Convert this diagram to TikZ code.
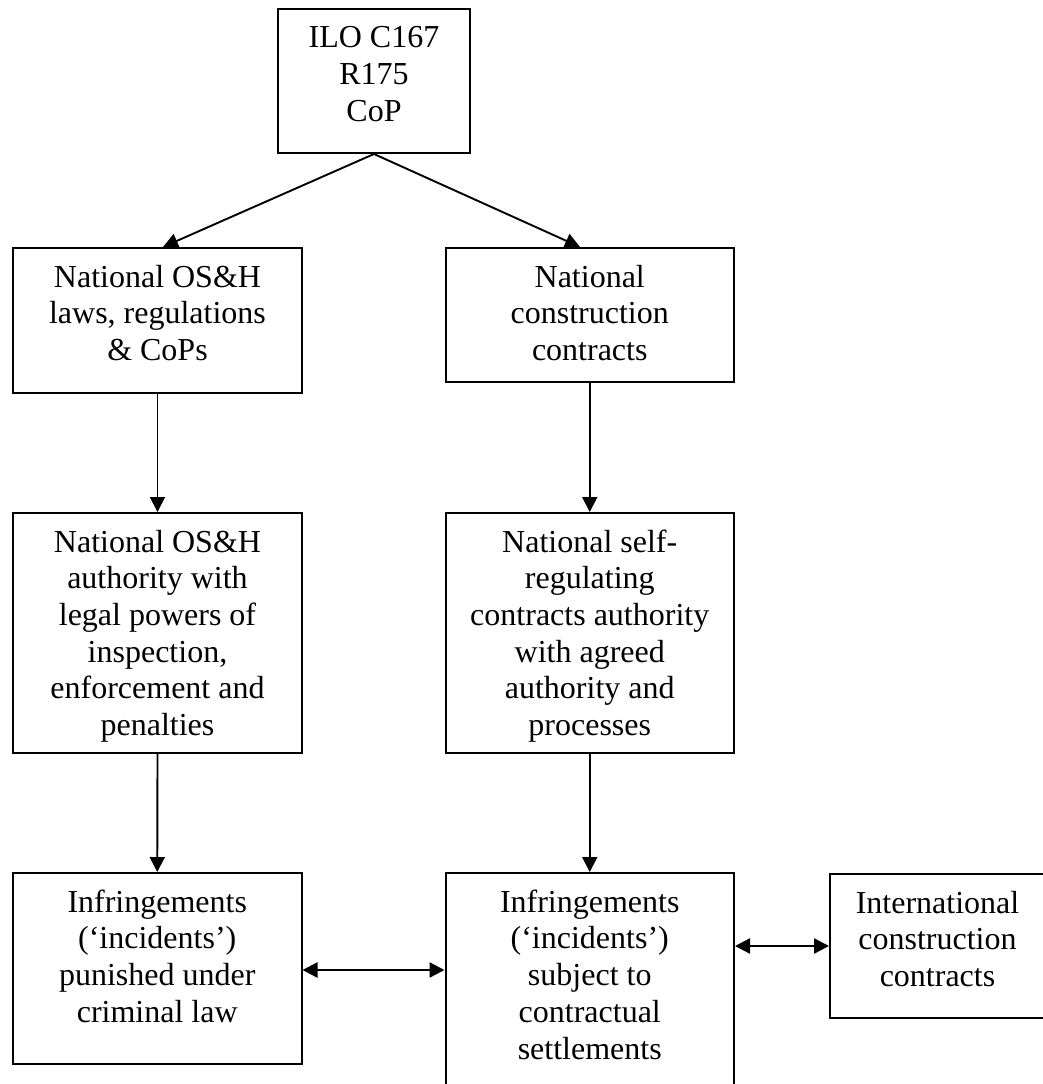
\documentclass[tikz,border=0pt]{standalone}
\usepackage{fontspec}
\setmainfont{Liberation Serif}
\usetikzlibrary{arrows.meta,calc}
\begin{document}
\begin{tikzpicture}[x=1pt,y=-1pt,
  boxnode/.style={draw, line width=2pt, inner sep=0pt, anchor=north west},
  txt/.style={anchor=north, inner sep=0pt, align=center, font=\fontsize{32}{36.7}\selectfont},
  conn/.style={line width=1.9pt, -{Triangle[length=15pt,width=15pt]}},
  dconn/.style={line width=2.3pt, {Triangle[length=15pt,width=15pt]}-{Triangle[length=15pt,width=15pt]}}]
\useasboundingbox (0,0) rectangle (1042,1084);

\node[boxnode, minimum width=192pt, minimum height=144.5pt] (ilo) at (277,7.5) {};
\node[boxnode, minimum width=289pt, minimum height=145pt] (l1) at (12,247) {};
\node[boxnode, minimum width=288.5pt, minimum height=134pt] (r1) at (444.5,247) {};
\node[boxnode, minimum width=289pt, minimum height=240pt] (l2) at (12,512) {};
\node[boxnode, minimum width=288.5pt, minimum height=240pt] (r2) at (444.5,512) {};
\node[boxnode, minimum width=288.5pt, minimum height=191pt] (l3) at (12,872) {};
\node[boxnode, minimum width=288.5pt, minimum height=225pt] (m3) at (444.5,872) {};
\node[boxnode, minimum width=215pt, minimum height=144pt] (x3) at (829,873) {};

\node[txt] (ilot) at ([yshift=-14.3pt]ilo.north) {\strut ILO C167\\R175\\CoP};
\node[txt] (l1t) at ([yshift=-14.3pt]l1.north) {\strut National OS\&H\\laws, regulations\\\& CoPs};
\node[txt] (r1t) at ([yshift=-14.3pt]r1.north) {\strut National\\construction\\contracts};
\node[txt] (l2t) at ([yshift=-14.3pt]l2.north) {\strut National OS\&H\\authority with\\legal powers of\\inspection,\\enforcement and\\penalties};
\node[txt] (r2t) at ([yshift=-14.3pt]r2.north) {\strut National self-\\regulating\\contracts authority\\with agreed\\authority and\\processes};
\node[txt] (l3t) at ([yshift=-14.3pt]l3.north) {\strut Infringements\\(‘incidents’)\\punished under\\criminal law};
\node[txt] (m3t) at ([yshift=-14.3pt]m3.north) {\strut Infringements\\(‘incidents’)\\subject to\\contractual\\settlements};
\node[txt] (x3t) at ([yshift=-14.3pt]x3.north) {\strut International\\construction\\contracts};

\draw[conn] (ilo.south) -- ([xshift=151pt]l1.north west);
\draw[conn] (ilo.south) -- ([xshift=135.5pt]r1.north west);
\draw[conn] (l1.south) -- (l2.north);
\draw[conn] (r1.south) -- (r2.north);
\draw[conn] (l2.south) -- (l3.north);
\draw[conn] (r2.south) -- (m3.north);
\draw[dconn] ([yshift=-1.5pt]l3.east) -- ([yshift=-1.5pt]l3.east -| m3.west);
\draw[dconn] (m3.east |- x3.west) -- (x3.west);
\end{tikzpicture}
\end{document}
